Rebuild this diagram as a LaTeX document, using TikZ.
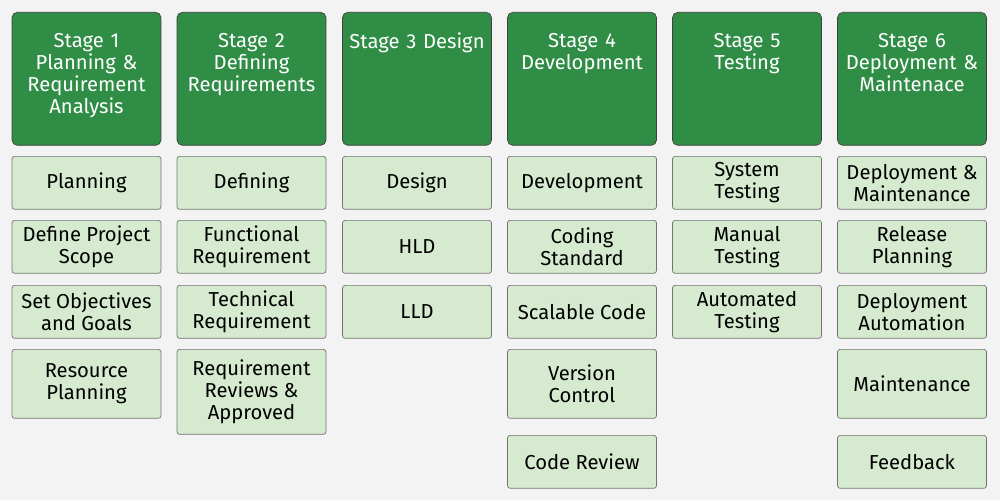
\documentclass[tikz,border=0pt]{standalone}
\usepackage{fontspec}
\setmainfont{Fira Sans}
\usetikzlibrary{positioning}
\definecolor{stagegreen}{HTML}{2F8D46}
\definecolor{subgreen}{HTML}{D5EACF}
\definecolor{bggray}{HTML}{F3F3F3}

\begin{document}
\begin{tikzpicture}[x=0.02cm, y=-0.02cm,
    stage/.style={draw=black!75, fill=stagegreen, text=white, minimum width=2.98cm,
        minimum height=2.66cm, anchor=north, rounded corners=3pt},
    stagetext/.style={text=white, text width=2.9cm, align=center, anchor=north,
        font=\fontsize{11.5}{12.6}\selectfont},
    task/.style={draw=black!55, fill=subgreen, minimum width=2.98cm, anchor=north,
        align=center, rounded corners=1.5pt, font=\fontsize{11.5}{12.6}\selectfont,
        inner sep=1pt},
    row/.style={task, minimum height=1.06cm},
    tallrow/.style={task, minimum height=1.38cm},
    tallerrow/.style={task, minimum height=1.70cm}
]
\fill[bggray] (0,0) rectangle (1000,500);

% Stage headers
\node[stage] (h1) at (86.5, 12) {};
\node[stage] (h2) at (251.5, 12) {};
\node[stage] (h3) at (417, 12) {};
\node[stage] (h4) at (582, 12) {};
\node[stage] (h5) at (747, 12) {};
\node[stage] (h6) at (912, 12) {};
\node[stagetext] at (86.5, 27) {Stage 1\\Planning \&\\Requirement\\Analysis};
\node[stagetext] at (251.5, 27) {Stage 2\\Defining\\Requirements};
\node[stagetext] at (417, 27) {Stage 3 Design};
\node[stagetext] at (582, 27) {Stage 4\\Development};
\node[stagetext] at (747, 27) {Stage 5\\Testing};
\node[stagetext] at (912, 27) {Stage 6\\Deployment \&\\Maintenace};

% Stage 1
\node[row] (a1) at (86.5, 156) {Planning};
\node[row] (a2) at (86.5, 220) {Define Project\\Scope};
\node[row] (a3) at (86.5, 285) {Set Objectives\\and Goals};
\node[tallrow] (a4) at (86.5, 349) {Resource\\Planning};

% Stage 2
\node[row] (b1) at (251.5, 156) {Defining};
\node[row] (b2) at (251.5, 220) {Functional\\Requirement};
\node[row] (b3) at (251.5, 285) {Technical\\Requirement};
\node[tallerrow] (b4) at (251.5, 349) {Requirement\\Reviews \&\\Approved};

% Stage 3
\node[row] (c1) at (417, 156) {Design};
\node[row] (c2) at (417, 220) {HLD};
\node[row] (c3) at (417, 285) {LLD};

% Stage 4
\node[row] (d1) at (582, 156) {Development};
\node[row] (d2) at (582, 220) {Coding\\Standard};
\node[row] (d3) at (582, 285) {Scalable Code};
\node[tallrow] (d4) at (582, 349) {Version\\Control};
\node[row] (d5) at (582, 435) {Code Review};

% Stage 5
\node[row] (e1) at (747, 156) {System\\Testing};
\node[row] (e2) at (747, 220) {Manual\\Testing};
\node[row] (e3) at (747, 285) {Automated\\Testing};

% Stage 6
\node[row] (f1) at (912, 156) {Deployment \&\\Maintenance};
\node[row] (f2) at (912, 220) {Release\\Planning};
\node[row] (f3) at (912, 285) {Deployment\\Automation};
\node[tallrow] (f4) at (912, 349) {Maintenance};
\node[row] (f5) at (912, 435) {Feedback};
\end{tikzpicture}
\end{document}
